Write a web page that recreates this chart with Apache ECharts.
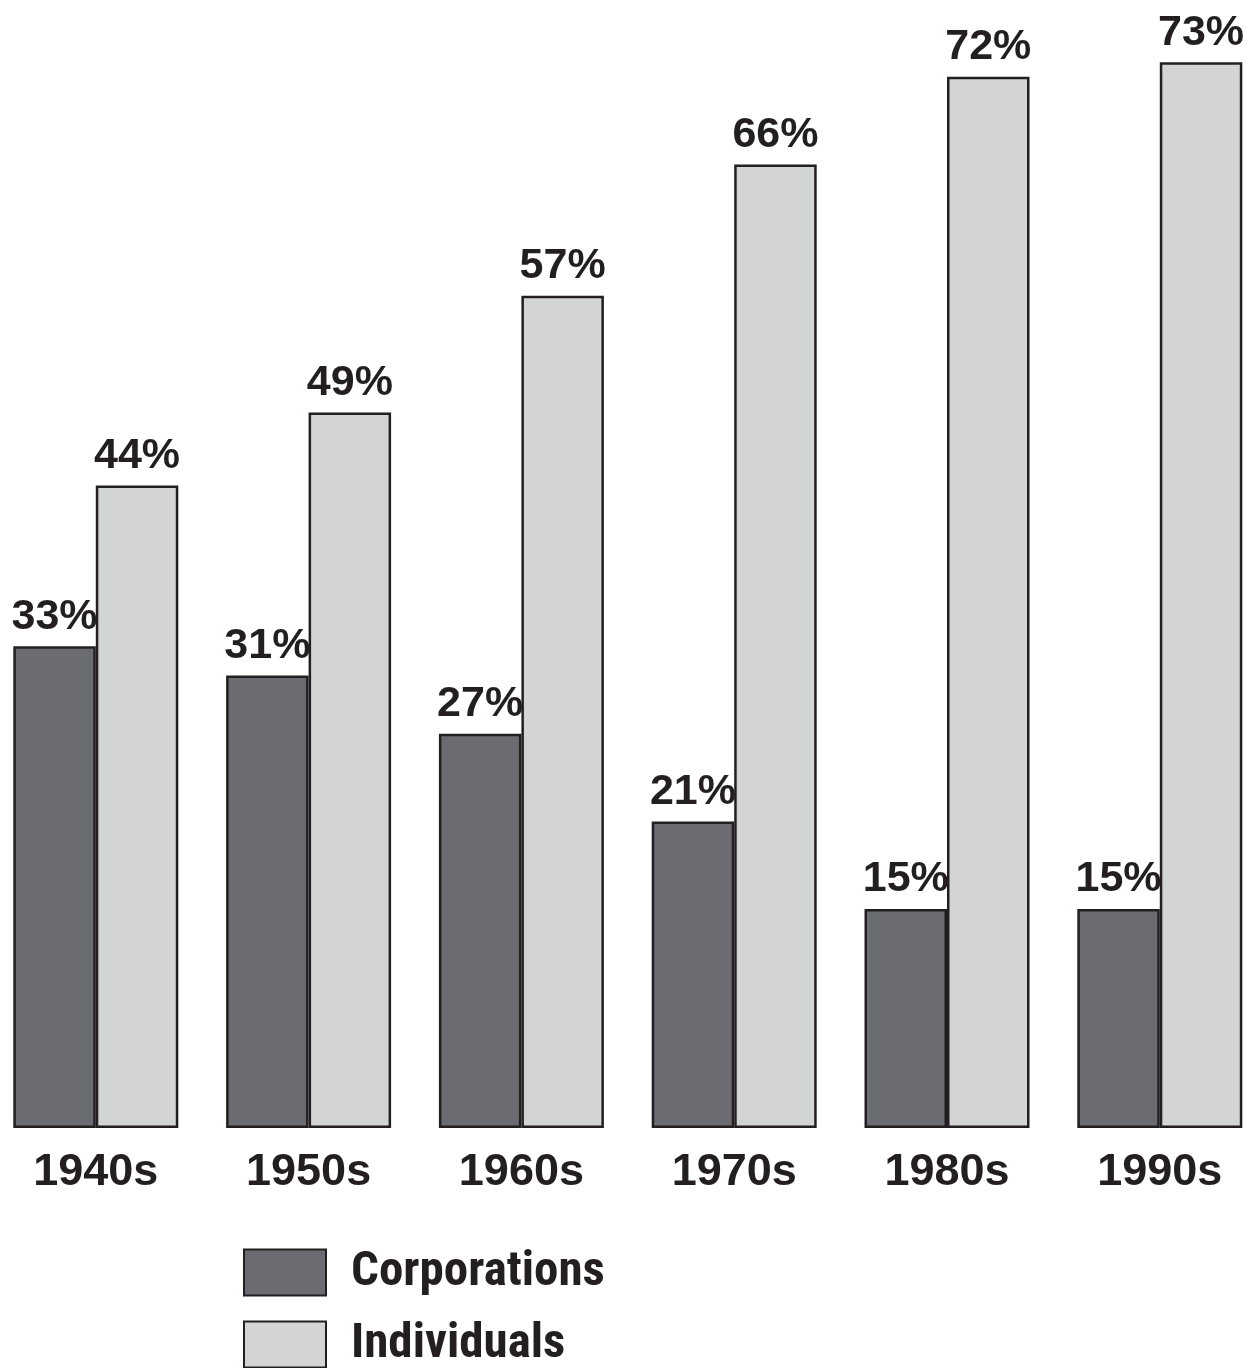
<!DOCTYPE html>
<html>
<head>
<meta charset="utf-8">
<script src="https://cdn.jsdelivr.net/npm/echarts@6/dist/echarts.min.js"></script>
<style>
html,body{margin:0;padding:0;background:#fff;overflow:hidden;width:1256px;height:1368px;position:relative;}
#chart{position:absolute;left:-11px;top:0;width:1278px;height:1368px;}
</style>
</head>
<body>
<div id="chart"></div>
<script>
const categories = ['1940s','1950s','1960s','1970s','1980s','1990s'];
const corporations = [33,31,27,21,15,15];
const individuals = [44,49,57,66,72,73];
const seriesNames = ['Corporations','Individuals'];

const ink = '#231f20';
const chart = echarts.init(document.getElementById('chart'));
const labelStyle = {
  show: true, position: 'top', distance: 8,
  formatter: '{c}%', color: ink,
  fontFamily: 'Liberation Sans, Arial, sans-serif', fontWeight: 'bold', fontSize: 43
};
const legendBase = {
  left: 254, padding: 0,
  itemWidth: 82, itemHeight: 46,
  icon: 'rect',
  textStyle: {color: ink, fontFamily: 'Roboto Condensed, sans-serif', fontWeight: 'bold', fontSize: 49, lineHeight: 46, padding: [0,0,0,20]}
};
chart.setOption({
  animation: false,
  backgroundColor: '#fff',
  grid: {left: 0.4, width: 1276.8, top: 33, bottom: 240, containLabel: false},
  xAxis: {
    type: 'category', data: categories,
    axisLine: {show: false}, axisTick: {show: false},
    axisLabel: {color: ink, fontFamily: 'Liberation Sans, Arial, sans-serif', fontWeight: 'bold', fontSize: 45, margin: 22}
  },
  yAxis: {type: 'value', min: 0, max: 75, show: false, splitLine: {show: false}},
  legend: [
    Object.assign({}, legendBase, {top: 1248, data: [seriesNames[0]]}),
    Object.assign({}, legendBase, {top: 1320, data: [seriesNames[1]]})
  ],
  series: [
    {name: seriesNames[0], type: 'bar', data: corporations, barWidth: 82.5, barGap: '0%',
     itemStyle: {color: '#6b6c71', borderColor: ink, borderWidth: 2.5}, label: labelStyle},
    {name: seriesNames[1], type: 'bar', data: individuals, barWidth: 82.5, barGap: '0%',
     itemStyle: {color: '#d3d4d6', borderColor: ink, borderWidth: 2.5}, label: labelStyle}
  ]
});
</script>
</body>
</html>
